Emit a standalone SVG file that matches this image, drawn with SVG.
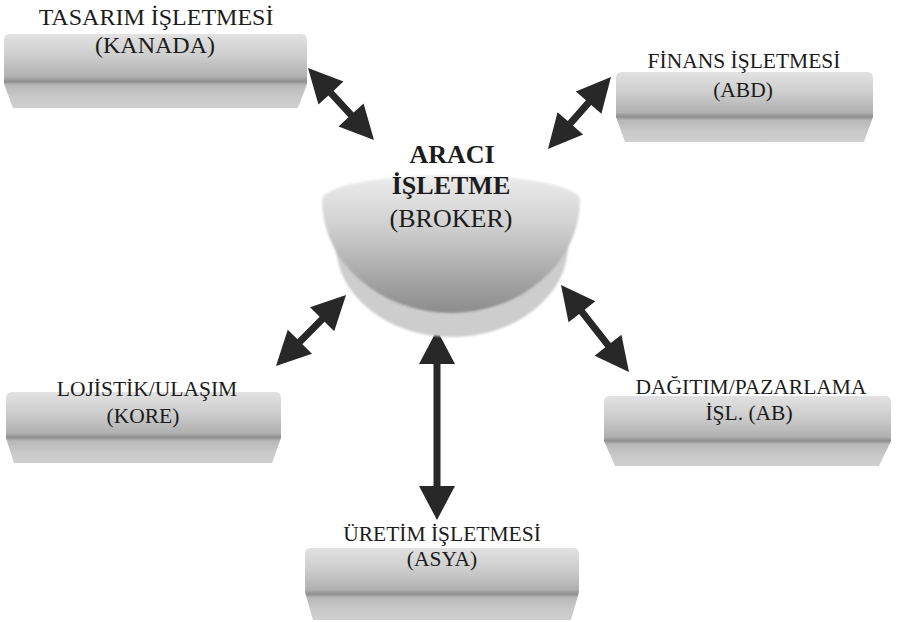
<svg xmlns="http://www.w3.org/2000/svg" width="899" height="622" viewBox="0 0 899 622">
<defs>
  <linearGradient id="boxGrad" x1="0" y1="0" x2="0" y2="1">
    <stop offset="0" stop-color="#e2e2e2"/>
    <stop offset="0.3" stop-color="#cdcdcd"/>
    <stop offset="0.58" stop-color="#b0b0b0"/>
    <stop offset="0.64" stop-color="#8e8e8e"/>
    <stop offset="0.69" stop-color="#b8b8b8"/>
    <stop offset="0.85" stop-color="#c9c9c9"/>
    <stop offset="1" stop-color="#cfcfcf"/>
  </linearGradient>
  <linearGradient id="bowlGrad" x1="0" y1="0" x2="0" y2="1">
    <stop offset="0" stop-color="#ececec"/>
    <stop offset="0.35" stop-color="#d2d2d2"/>
    <stop offset="0.75" stop-color="#a6a6a6"/>
    <stop offset="1" stop-color="#8c8c8c"/>
  </linearGradient>
  <filter id="soft" x="-5%" y="-5%" width="110%" height="110%">
    <feGaussianBlur stdDeviation="1.2"/>
  </filter>
</defs>
<style>
  .box { fill: url(#boxGrad); }
  .lbl { font-family: "Liberation Serif", "Times New Roman", serif; font-size: 21.5px; fill: #1c1c1c; text-anchor: middle; }
  .big { font-size: 24px; }
  .brk { font-family: "Liberation Serif", "Times New Roman", serif; font-size: 26px; fill: #1c1c1c; text-anchor: middle; }
  .bold { font-weight: bold; }
  .arrow { fill: #282828; }
</style>
<rect width="899" height="622" fill="#ffffff"/>

<g id="connectors">
  <path class="arrow" transform="translate(308,68) rotate(47.5)" d="M0,0 L34,-17 L34,-3.5 L63.7,-3.5 L63.7,-17 L97.7,0 L63.7,17 L63.7,3.5 L34,3.5 L34,17 Z"/>
  <path class="arrow" transform="translate(611,77) rotate(131.2)" d="M0,0 L34,-17 L34,-3.5 L61.7,-3.5 L61.7,-17 L95.7,0 L61.7,17 L61.7,3.5 L34,3.5 L34,17 Z"/>
  <path class="arrow" transform="translate(346,295) rotate(134.6)" d="M0,0 L34,-17 L34,-3.5 L65.7,-3.5 L65.7,-17 L99.7,0 L65.7,17 L65.7,3.5 L34,3.5 L34,17 Z"/>
  <path class="arrow" transform="translate(561,285) rotate(52)" d="M0,0 L34,-17 L34,-3.5 L76.4,-3.5 L76.4,-17 L110.4,0 L76.4,17 L76.4,3.5 L34,3.5 L34,17 Z"/>
  <path class="arrow" transform="translate(437,330) rotate(90)" d="M0,0 L34,-18 L34,-3.5 L156,-3.5 L156,-18 L190,0 L156,18 L156,3.5 L34,3.5 L34,18 Z"/>
</g>

<g id="broker">
  <path d="M336,245 A116,92 0 0 0 568,245 Z" fill="#cdcdcd" filter="url(#soft)"/>
  <path d="M322,200 A129,25 0 0 1 580,200 A129,113 0 0 1 322,200 Z" fill="url(#bowlGrad)" filter="url(#soft)"/>
  <text class="brk bold" x="452" y="163">ARACI</text>
  <text class="brk bold" x="451" y="194">İŞLETME</text>
  <text class="brk" x="451" y="227">(BROKER)</text>
</g>

<g id="tasarim">
  <path class="box" d="M10,34 Q4,34 4,40 L4,84 L13,108 L298,108 L307,84 L307,40 Q307,34 301,34 Z"/>
  <text class="lbl big" x="156" y="25">TASARIM İŞLETMESİ</text>
  <text class="lbl big" x="155" y="53">(KANADA)</text>
</g>

<g id="finans">
  <path class="box" d="M622,72 Q616,72 616,78 L616,117 L625,142 L864,142 L873,117 L873,78 Q873,72 867,72 Z"/>
  <text class="lbl" x="744" y="68">FİNANS İŞLETMESİ</text>
  <text class="lbl" x="743" y="97">(ABD)</text>
</g>

<g id="lojistik">
  <path class="box" d="M12,392 Q6,392 6,398 L6,438 L14,463 L272,463 L281,438 L281,398 Q281,392 275,392 Z"/>
  <text class="lbl" x="147" y="396">LOJİSTİK/ULAŞIM</text>
  <text class="lbl" x="143" y="423">(KORE)</text>
</g>

<g id="dagitim">
  <path class="box" d="M610,396 Q604,396 604,402 L604,441 L615,466 L879,466 L891,441 L891,402 Q891,396 885,396 Z"/>
  <text class="lbl" x="751" y="394">DAĞITIM/PAZARLAMA</text>
  <text class="lbl" x="749" y="420">İŞL. (AB)</text>
</g>

<g id="uretim">
  <path class="box" d="M311,548 Q305,548 305,554 L305,592 L313,620 L571,620 L579,592 L579,554 Q579,548 573,548 Z"/>
  <text class="lbl" x="442" y="541">ÜRETİM İŞLETMESİ</text>
  <text class="lbl" x="442" y="566">(ASYA)</text>
</g>
</svg>
